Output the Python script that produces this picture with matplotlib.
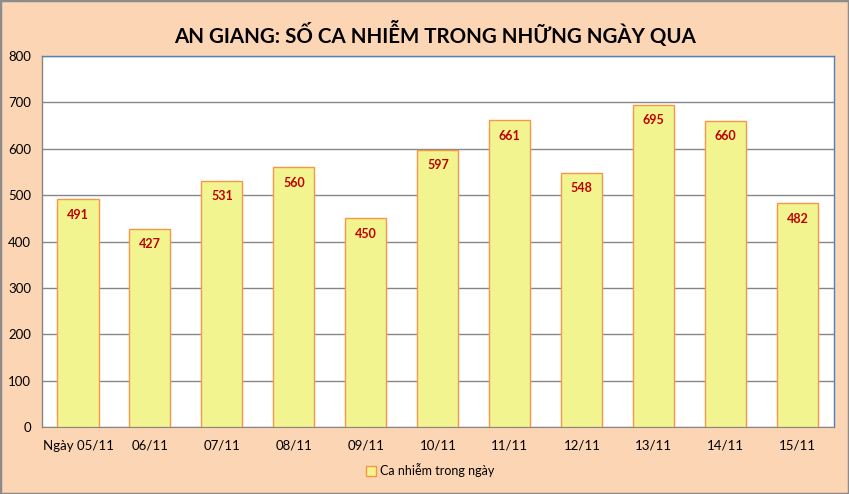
import matplotlib
matplotlib.use("Agg")
import matplotlib.pyplot as plt
from matplotlib.patches import Rectangle, Patch

categories = ["Ngày 05/11", "06/11", "07/11", "08/11", "09/11", "10/11",
              "11/11", "12/11", "13/11", "14/11", "15/11"]
values = [491, 427, 531, 560, 450, 597, 661, 548, 695, 660, 482]
series_name = "Ca nhiễm trong ngày"
title = "AN GIANG: SỐ CA NHIỄM TRONG NHỮNG NGÀY QUA"
yticks = [0, 100, 200, 300, 400, 500, 600, 700, 800]

bg = "#FCD5B5"
fam = ["Lato", "DejaVu Sans"]

fig = plt.figure(figsize=(8.49, 4.94), dpi=100, facecolor=bg)
fig.patches.append(Rectangle((0, 0), 1, 1, transform=fig.transFigure,
                             fill=False, edgecolor="#8C8C8C", linewidth=2.5))
ax = fig.add_axes([0.0495, 0.1356, 0.9325, 0.751])
ax.set_facecolor("white")

x = list(range(len(categories)))
bars = ax.bar(x, values, width=0.57, color="#F2F58F", edgecolor="#F79646",
              linewidth=1.0, zorder=3)
for xi, v in zip(x, values):
    ax.text(xi, v - 33, str(v), ha="center", va="center", color="#C00000",
            fontsize=9, fontweight="bold", family=fam, zorder=4)

ax.set_xlim(-0.5, len(categories) - 0.5)
ax.set_ylim(0, 800)
ax.set_yticks(yticks)
ax.set_yticklabels([str(t) for t in yticks], family=fam, fontsize=9.5)
ax.set_xticks(x)
ax.set_xticklabels(categories, family=fam, fontsize=9.5)
ax.tick_params(axis="both", length=0, pad=9)
ax.tick_params(axis="y", pad=8)
ax.yaxis.grid(True, color="#868686", linewidth=1.0, zorder=0)
ax.set_axisbelow(True)
for side in ["left", "right", "top"]:
    ax.spines[side].set_color("#4F81BD")
    ax.spines[side].set_linewidth(1.0)
ax.spines["bottom"].set_color("#868686")
ax.spines["left"].set_color("#868686")

fig.text(0.513, 0.932, title, ha="center", va="center", fontsize=14.8,
         fontweight="bold", family=fam, color="black")

leg = fig.legend(handles=[Patch(facecolor="#F2F58F", edgecolor="#F79646",
                                label=series_name)],
                 loc="center", bbox_to_anchor=(0.507, 0.048), frameon=False,
                 prop={"family": fam, "size": 9}, handlelength=0.8,
                 handleheight=0.8, handletextpad=0.3)

fig.savefig("out.png", dpi=100, facecolor=bg)
